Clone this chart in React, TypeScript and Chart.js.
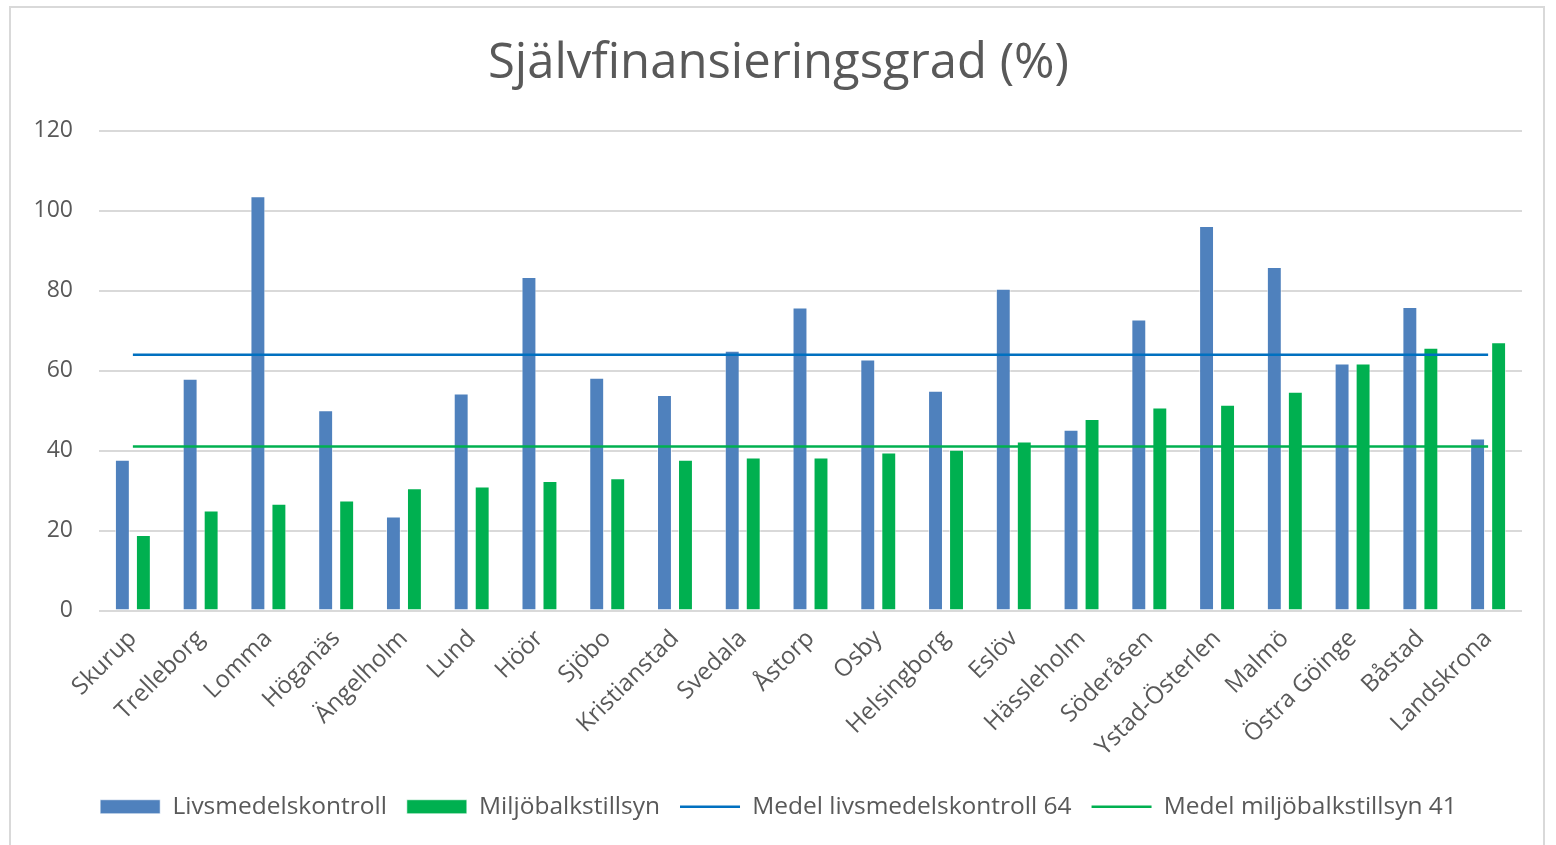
import React, { useEffect, useRef } from "react";
import { Chart, registerables } from "chart.js";

Chart.register(...registerables);

const categories = [
  "Skurup", "Trelleborg", "Lomma", "Höganäs", "Ängelholm", "Lund", "Höör",
  "Sjöbo", "Kristianstad", "Svedala", "Åstorp", "Osby", "Helsingborg", "Eslöv",
  "Hässleholm", "Söderåsen", "Ystad-Österlen", "Malmö", "Östra Göinge", "Båstad", "Landskrona",
];

const livsmedelskontroll = [
  37.7, 58, 103.6, 50.1, 23.5, 54.3, 83.4, 58.2, 53.9, 65, 75.8, 62.8, 55, 80.5,
  45.2, 72.8, 96.2, 85.9, 61.8, 75.9, 43,
];

const miljobalkstillsyn = [
  18.9, 25, 26.7, 27.5, 30.6, 31, 32.4, 33.1, 37.7, 38.3, 38.3, 39.5, 40.2, 42.3,
  47.9, 50.8, 51.5, 54.7, 61.8, 65.7, 67.1,
];

const medelLivsmedel = [
  64, 64, 64, 64, 64, 64, 64, 64, 64, 64, 64, 64, 64, 64, 64, 64, 64, 64, 64, 64, 64,
];

const medelMiljobalk = [
  41, 41, 41, 41, 41, 41, 41, 41, 41, 41, 41, 41, 41, 41, 41, 41, 41, 41, 41, 41, 41,
];

const yTicks = { min: 0, max: 120, step: 20 };

const FONT = "'Open Sans', sans-serif";
const TEXT = "#595959";

export default function App() {
  const ref = useRef<HTMLCanvasElement>(null);

  useEffect(() => {
    document.body.style.margin = "0";
    const chart = new Chart(ref.current!, {
      type: "bar",
      data: {
        labels: categories,
        datasets: [
          {
            type: "bar",
            label: "Livsmedelskontroll",
            data: livsmedelskontroll,
            backgroundColor: "#4F81BD",
            borderColor: "rgba(255,255,255,0.6)",
            borderWidth: 1,
            barPercentage: 0.71,
            categoryPercentage: 0.62,
            pointStyle: "rect",
            order: 2,
          } as any,
          {
            type: "bar",
            label: "Miljöbalkstillsyn",
            data: miljobalkstillsyn,
            backgroundColor: "#00B050",
            borderColor: "rgba(255,255,255,0.6)",
            borderWidth: 1,
            barPercentage: 0.71,
            categoryPercentage: 0.62,
            pointStyle: "rect",
            order: 2,
          } as any,
          {
            type: "line",
            label: "Medel livsmedelskontroll 64",
            data: medelLivsmedel,
            borderColor: "#0070C0",
            backgroundColor: "#0070C0",
            borderWidth: 2.5,
            pointRadius: 0,
            pointStyle: "line",
            fill: false,
            order: 0,
          } as any,
          {
            type: "line",
            label: "Medel miljöbalkstillsyn 41",
            data: medelMiljobalk,
            borderColor: "#00B050",
            backgroundColor: "#00B050",
            borderWidth: 2.5,
            pointRadius: 0,
            pointStyle: "line",
            fill: false,
            order: 0,
          } as any,
        ],
      },
      options: {
        responsive: false,
        animation: false,
        layout: { padding: { left: 35, right: 34, top: 0, bottom: 16 } },
        plugins: {
          title: {
            display: true,
            text: "Självfinansieringsgrad (%)",
            color: TEXT,
            font: { family: FONT, size: 49, weight: "normal" },
            padding: { top: 35, bottom: 37 },
          },
          legend: {
            position: "bottom",
            labels: {
              usePointStyle: true,
              pointStyleWidth: 60,
              boxHeight: 14,
              color: TEXT,
              font: { family: FONT, size: 24.5 },
              padding: 20,
              sort: (a: any, b: any) => a.datasetIndex - b.datasetIndex,
            },
          } as any,
          tooltip: { enabled: false },
        },
        scales: {
          x: {
            grid: { display: false },
            border: { display: false },
            ticks: {
              color: TEXT,
              font: { family: FONT, size: 24 },
              minRotation: 45,
              maxRotation: 45,
              padding: 6,
            },
            afterFit: (s: any) => {
              s.height = 164;
            },
          },
          y: {
            min: yTicks.min,
            max: yTicks.max,
            ticks: {
              stepSize: yTicks.step,
              color: TEXT,
              font: { family: FONT, size: 23 },
              padding: 26,
            },
            grid: { color: "#d9d9d9", lineWidth: 2, drawTicks: false },
            border: { display: false },
            afterFit: (s: any) => {
              s.width = 64;
            },
          },
        },
      } as any,
    });
    return () => chart.destroy();
  }, []);

  return (
    <div style={{ position: "relative", width: 1556, height: 845, overflow: "hidden", background: "#fff" }}>
      <div
        style={{
          position: "absolute",
          left: 9,
          top: 6,
          width: 1536,
          height: 900,
          border: "2px solid #d9d9d9",
          boxSizing: "border-box",
        }}
      />
      <canvas ref={ref} width={1556} height={845} style={{ position: "absolute", left: 0, top: 0 }} />
    </div>
  );
}
